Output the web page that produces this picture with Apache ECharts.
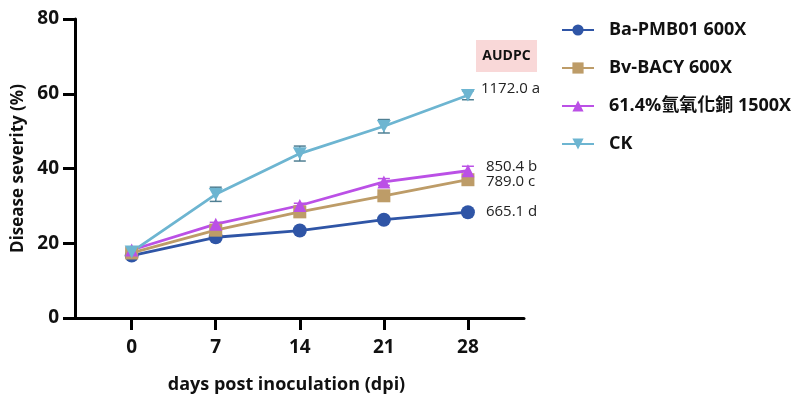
<!DOCTYPE html>
<html>
<head>
<meta charset="utf-8">
<script src="https://cdn.jsdelivr.net/npm/echarts@6/dist/echarts.min.js"></script>
<style>
html,body{margin:0;padding:0;background:#fff;}
#c{width:805px;height:394px;}
</style>
</head>
<body>
<div id="c"></div>
<script>
const days = [0, 7, 14, 21, 28];
const yTicks = [0, 20, 40, 60, 80];
const seriesNames = ['Ba-PMB01 600X', 'Bv-BACY 600X', '61.4%氫氧化銅 1500X', 'CK'];
const baPMB01 = [16.7, 21.6, 23.4, 26.3, 28.3];
const bvBACY = [17.4, 23.5, 28.4, 32.7, 37.0];
const copper = [18.2, 25.1, 30.1, 36.4, 39.4];
const ck = [17.7, 33.1, 44.0, 51.3, 59.6];
const baErr = [0.4, 0.4, 0.4, 0.4, 0.4];
const bvErr = [0.4, 0.4, 0.5, 0.5, 0.6];
const cuErr = [0.4, 0.5, 0.6, 0.9, 1.2];
const ckErr = [0.4, 1.9, 2.0, 1.8, 1.2];
const audpc = ['665.1 d', '789.0 c', '850.4 b', '1172.0 a'];

const colors = ['#2f55a6', '#bd9c68', '#bb50e6', '#6db5d1'];
const symbols = ['circle', 'rect', 'triangle', 'path://M0,0 L10,0 L5,9 Z'];
const symbolSizes = [14, 13, 13, 14];
const allVals = [baPMB01, bvBACY, copper, ck];
const allErr = [baErr, bvErr, cuErr, ckErr];
const labelOffsets = [[13, 0], [13, 2], [13, -4], [8, -7]];
const capColors = ['#2f55a6', '#bd9c68', '#bb50e6', '#4f7f93'];

const font = '"Open Sans", "Noto Sans CJK TC", sans-serif';

const series = [];
allVals.forEach((vals, i) => {
  const errData = days.map((d, k) => [d, vals[k], allErr[i][k]]);
  series.push({
    type: 'custom',
    name: seriesNames[i] + ' err',
    z: 1,
    silent: true,
    data: errData,
    renderItem: function (params, api) {
      const x = api.value(0), y = api.value(1), e = api.value(2);
      const top = api.coord([x, y + e]);
      const bot = api.coord([x, y - e]);
      const w = 6;
      const st = { stroke: capColors[i], lineWidth: 1.5 };
      return {
        type: 'group',
        children: [
          { type: 'line', shape: { x1: top[0], y1: top[1], x2: bot[0], y2: bot[1] }, style: st },
          { type: 'line', shape: { x1: top[0] - w, y1: top[1], x2: top[0] + w, y2: top[1] }, style: st },
          { type: 'line', shape: { x1: bot[0] - w, y1: bot[1], x2: bot[0] + w, y2: bot[1] }, style: st }
        ]
      };
    }
  });
  series.push({
    type: 'line',
    name: seriesNames[i],
    z: 3,
    data: days.map((d, k) => [d, vals[k]]),
    symbol: symbols[i],
    symbolSize: symbolSizes[i],
    symbolKeepAspect: true,
    showAllSymbol: true,
    color: colors[i],
    lineStyle: { width: 2.8, color: colors[i] },
    itemStyle: { color: colors[i], opacity: 1 },
    endLabel: {
      show: true,
      formatter: audpc[i],
      color: '#222',
      fontFamily: font,
      fontSize: 15,
      distance: 5,
      offset: labelOffsets[i]
    }
  });
});

const chart = echarts.init(document.getElementById('c'));
chart.setOption({
  animation: false,
  backgroundColor: '#fff',
  grid: { left: 75, right: 281, top: 19, bottom: 76, containLabel: false, outerBoundsMode: 'none' },
  legend: {
    data: seriesNames,
    orient: 'vertical',
    left: 556,
    top: 16,
    itemWidth: 32,
    itemHeight: 14,
    itemGap: 20,
    textStyle: { fontFamily: font, fontSize: 18, fontWeight: 'bold', color: '#111', padding: [0, 0, 0, 10] }
  },
  xAxis: {
    type: 'value',
    min: -4.72,
    max: 32.67,
    name: 'days post inoculation (dpi)',
    nameLocation: 'middle',
    nameGap: 58,
    nameTextStyle: { fontFamily: font, fontSize: 18, fontWeight: 'bold', color: '#111', padding: [0, 26, 0, 0] },
    splitLine: { show: false },
    axisLine: { onZero: false, lineStyle: { color: '#000', width: 3 } },
    axisTick: { show: true, customValues: days, length: 12, lineStyle: { color: '#000', width: 3 } },
    axisLabel: { customValues: days, margin: 20, fontFamily: font, fontSize: 19, fontWeight: 'bold', color: '#111' }
  },
  yAxis: {
    type: 'value',
    min: 0,
    max: 80,
    interval: 20,
    name: 'Disease severity (%)',
    nameLocation: 'middle',
    nameGap: 43,
    nameTextStyle: { fontFamily: font, fontSize: 17, fontWeight: 'bold', color: '#111' },
    splitLine: { show: false },
    axisLine: { show: true, onZero: false, lineStyle: { color: '#000', width: 3 } },
    axisTick: { show: true, length: 12, lineStyle: { color: '#000', width: 3 } },
    axisLabel: { margin: 16, fontFamily: font, fontSize: 19, fontWeight: 'bold', color: '#111' }
  },
  graphic: [{
    type: 'group',
    left: 476,
    top: 40,
    children: [
      { type: 'rect', shape: { x: 0, y: 0, width: 61, height: 32 }, style: { fill: '#f9d8d8' } },
      { type: 'text', x: 30.5, y: 16, style: { text: 'AUDPC', fontFamily: font, fontSize: 14, fontWeight: 'bold', fill: '#111', align: 'center', verticalAlign: 'middle' } }
    ]
  }],
  series: series
});
</script>
</body>
</html>
